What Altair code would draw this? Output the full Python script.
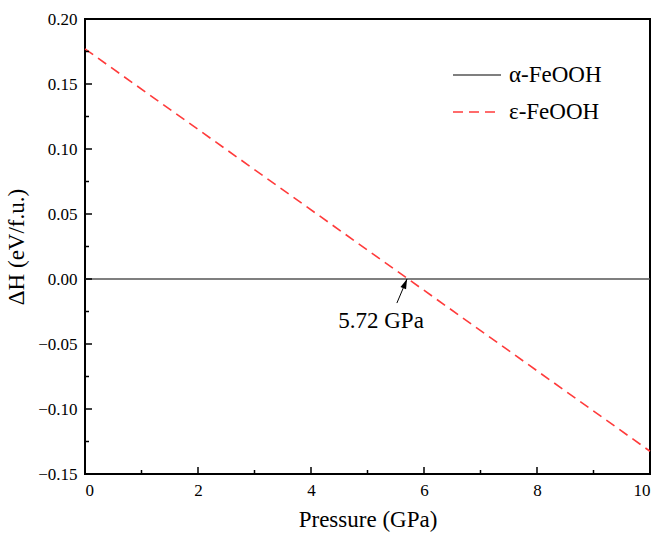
import altair as alt
import pandas as pd

# Series data
pressure = [0, 10]
eps_dH = [0.177, -0.1325]
alpha_dH = [0.0, 0.0]
series_names = ["α-FeOOH", "ε-FeOOH"]

# Tick values
x_major = [0, 2, 4, 6, 8, 10]
x_minor = [1, 3, 5, 7, 9]
y_major = [-0.15, -0.10, -0.05, 0.0, 0.05, 0.10, 0.15, 0.20]
y_minor = [-0.125, -0.075, -0.025, 0.025, 0.075, 0.125, 0.175]

# Annotation
ann_text = "5.72 GPa"
ann_text_pos = (5.24, -0.0325)
arrow_tail = (5.52, -0.0185)
arrow_head = (5.70, 0.0)

FONT = "Times New Roman"

rows = []
for p, v in zip(pressure, alpha_dH):
    rows.append({"P": p, "dH": v, "s": series_names[0]})
for p, v in zip(pressure, eps_dH):
    rows.append({"P": p, "dH": v, "s": series_names[1]})
df = pd.DataFrame(rows)

xs = alt.Scale(domain=[0, 10], nice=False, zero=False)
ys = alt.Scale(domain=[-0.15, 0.20], nice=False, zero=False)

W, H = 565, 455

leg = dict(title=None, orient="none", legendX=367, legendY=31,
           symbolType="stroke", symbolSize=2304, symbolStrokeWidth=1.6,
           labelFont=FONT, labelFontSize=23, labelColor="black",
           rowPadding=-30, labelOffset=7)

lines = alt.Chart(df).mark_line(strokeWidth=1.6).encode(
    x=alt.X("P:Q", scale=xs,
            axis=alt.Axis(title="Pressure (GPa)", values=x_major, ticks=False, domain=False,
                          grid=False, labelPadding=8, labelFontSize=17, titleFontSize=23,
                          labelFont=FONT, titleFont=FONT, labelColor="black",
                          titleColor="black", titleFontWeight="normal", titlePadding=10,
                          format="d")),
    y=alt.Y("dH:Q", scale=ys,
            axis=alt.Axis(title="ΔH (eV/f.u.)", values=y_major, ticks=False, domain=False,
                          grid=False, labelPadding=8, labelFontSize=17, titleFontSize=23,
                          labelFont=FONT, titleFont=FONT, labelColor="black",
                          titleColor="black", titleFontWeight="normal", titlePadding=9,
                          format=".2f")),
    color=alt.Color("s:N", scale=alt.Scale(domain=series_names, range=["#555555", "#ff3b3b"]),
                    legend=alt.Legend(**leg)),
    strokeDash=alt.StrokeDash("s:N", scale=alt.Scale(domain=series_names, range=[[1, 0], [10, 6]]),
                              legend=alt.Legend(**leg)),
)

# inward ticks
xmaj = alt.Chart(pd.DataFrame({"x": x_major[1:-1]})).mark_rule(color="black", strokeWidth=1.5).encode(
    x=alt.X("x:Q", scale=xs), y=alt.value(H), y2=alt.value(H - 7))
xmin = alt.Chart(pd.DataFrame({"x": x_minor})).mark_rule(color="black", strokeWidth=1.5).encode(
    x=alt.X("x:Q", scale=xs), y=alt.value(H), y2=alt.value(H - 4))
ymaj = alt.Chart(pd.DataFrame({"y": y_major[1:-1]})).mark_rule(color="black", strokeWidth=1.5).encode(
    y=alt.Y("y:Q", scale=ys), x=alt.value(0), x2=alt.value(7))
ymin = alt.Chart(pd.DataFrame({"y": y_minor})).mark_rule(color="black", strokeWidth=1.5).encode(
    y=alt.Y("y:Q", scale=ys), x=alt.value(0), x2=alt.value(4))

# annotation
arrow_df = pd.DataFrame({"x": [arrow_tail[0]], "y": [arrow_tail[1]],
                         "x2": [arrow_head[0]], "y2": [arrow_head[1]]})
arrow_line = alt.Chart(arrow_df).mark_rule(color="black", strokeWidth=1).encode(
    x=alt.X("x:Q", scale=xs), y=alt.Y("y:Q", scale=ys), x2="x2:Q", y2="y2:Q")
arrow_headm = alt.Chart(pd.DataFrame({"x": [arrow_head[0]], "y": [arrow_head[1]]})).mark_point(
    shape="M0,-1L0.6,1L-0.6,1Z", filled=True, color="black", size=100, angle=22, opacity=1,
    yOffset=4.6, xOffset=-1.9).encode(
    x=alt.X("x:Q", scale=xs), y=alt.Y("y:Q", scale=ys))
ann = alt.Chart(pd.DataFrame({"x": [ann_text_pos[0]], "y": [ann_text_pos[1]], "t": [ann_text]})).mark_text(
    font=FONT, fontSize=23, color="black", align="center", baseline="middle").encode(
    x=alt.X("x:Q", scale=xs), y=alt.Y("y:Q", scale=ys), text="t:N")

chart = alt.layer(lines, xmaj, xmin, ymaj, ymin, arrow_line, arrow_headm, ann).properties(
    width=W, height=H,
    autosize=alt.AutoSizeParams(type="none"),
    padding={"left": 85, "top": 19, "right": 9, "bottom": 64},
    background="white",
).configure_view(stroke="black", strokeWidth=2)

chart.save("out.html", embed_options={"renderer": "svg", "actions": False})
